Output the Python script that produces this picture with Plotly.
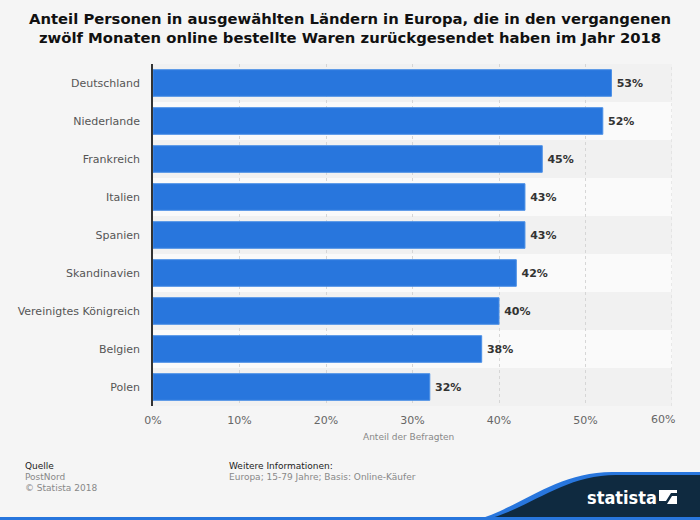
import plotly.graph_objects as go

countries = ["Deutschland", "Niederlande", "Frankreich", "Italien", "Spanien",
             "Skandinavien", "Vereinigtes Königreich", "Belgien", "Polen"]
values = [53, 52, 45, 43, 43, 42, 40, 38, 32]
x_ticks = [0, 10, 20, 30, 40, 50, 60]
x_tick_labels = ["0%", "10%", "20%", "30%", "40%", "50%", "60%"]

W, H = 700, 520
L, R, T, B = 153, 28, 64, 114
PW, PH = W - L - R, H - T - B


def xp(px):
    return (px - L) / PW


def yp(py):
    return (H - B - py) / PH


def path(points_cmds):
    out = []
    for cmd, pts in points_cmds:
        coords = [f"{xp(x):.5f},{yp(y):.5f}" for (x, y) in pts]
        out.append(cmd + " " + " ".join(coords))
    return " ".join(out) + " Z"


BLUE = "#2876dd"
NAVY = "#0f2a40"
GRID = "#d6d6d6"

fig = go.Figure()
fig.add_trace(go.Bar(
    y=countries,
    x=values,
    orientation="h",
    marker=dict(color=BLUE, line=dict(color="#4a8fe6", width=1)),
    width=0.70,
    text=[f"\u2009{v}%" for v in values],
    textposition="outside",
    textfont=dict(family="DejaVu Sans", size=11, color="#333333", weight="bold"),
    cliponaxis=False,
    hoverinfo="skip",
))

shapes = []
for i, c in enumerate(countries):
    shapes.append(dict(
        type="rect", xref="paper", yref="y", layer="below",
        x0=0, x1=1, y0=i - 0.5, y1=i + 0.5,
        fillcolor="#f1f1f1" if i % 2 == 0 else "#fafafa", line=dict(width=0),
    ))
# gridline at the right edge of the plot
shapes.append(dict(
    type="line", xref="x", yref="paper", layer="below",
    x0=x_ticks[-1], x1=x_ticks[-1], y0=0, y1=1,
    line=dict(color=GRID, width=1, dash="dot"),
))

shapes.append(dict(
    type="path", xref="paper", yref="paper", layer="above",
    path=path([("M", [(476, 520)]),
               ("C", [(520, 508), (555, 472), (612, 472)]),
               ("L", [(700, 472)]),
               ("L", [(700, 520)])]),
    fillcolor=BLUE, line=dict(width=0),
))
shapes.append(dict(
    type="path", xref="paper", yref="paper", layer="above",
    path=path([("M", [(484, 520)]),
               ("C", [(528, 510), (562, 475), (616, 475)]),
               ("L", [(700, 475)]),
               ("L", [(700, 520)])]),
    fillcolor=NAVY, line=dict(width=0),
))
shapes.append(dict(
    type="rect", xref="paper", yref="paper", layer="above",
    x0=xp(0), x1=xp(700), y0=yp(520), y1=yp(517),
    fillcolor=BLUE, line=dict(width=0),
))
shapes.append(dict(
    type="rect", xref="paper", yref="paper", layer="above",
    x0=xp(659), x1=xp(677), y0=yp(504), y1=yp(490),
    fillcolor="white", line=dict(width=0),
))
shapes.append(dict(
    type="path", xref="paper", yref="paper", layer="above",
    path=path([("M", [(659, 501)]),
               ("L", [(666, 501)]),
               ("L", [(671, 493)]),
               ("L", [(677, 493)]),
               ("L", [(677, 496)]),
               ("L", [(672, 496)]),
               ("L", [(667, 504)]),
               ("L", [(659, 504)])]),
    fillcolor=NAVY, line=dict(width=0),
))

annotations = [
    dict(text="Anteil Personen in ausgewählten Ländern in Europa, die in den vergangenen<br>"
              "zwölf Monaten online bestellte Waren zurückgesendet haben im Jahr 2018",
         x=xp(350), y=yp(28), xref="paper", yref="paper", showarrow=False,
         xanchor="center", yanchor="middle",
         font=dict(family="DejaVu Sans", size=14.8, color="#111111", weight="bold")),
    dict(text=x_tick_labels[-1], x=xp(677), y=yp(419), xref="paper", yref="paper",
         showarrow=False, xanchor="right", yanchor="middle",
         font=dict(family="DejaVu Sans", size=11, color="#666666")),
    dict(text="Anteil der Befragten", x=xp(408), y=yp(437), xref="paper", yref="paper",
         showarrow=False, xanchor="center", yanchor="middle",
         font=dict(family="DejaVu Sans", size=9, color="#888888")),
    dict(text="Quelle", x=xp(23), y=yp(466), xref="paper", yref="paper", showarrow=False,
         xanchor="left", yanchor="middle",
         font=dict(family="DejaVu Sans", size=9, color="#222222")),
    dict(text="PostNord", x=xp(23), y=yp(477), xref="paper", yref="paper", showarrow=False,
         xanchor="left", yanchor="middle",
         font=dict(family="DejaVu Sans", size=9, color="#888888")),
    dict(text="© Statista 2018", x=xp(23), y=yp(488), xref="paper", yref="paper",
         showarrow=False, xanchor="left", yanchor="middle",
         font=dict(family="DejaVu Sans", size=9, color="#888888")),
    dict(text="Weitere Informationen:", x=xp(227), y=yp(466), xref="paper", yref="paper",
         showarrow=False, xanchor="left", yanchor="middle",
         font=dict(family="DejaVu Sans", size=9, color="#222222")),
    dict(text="Europa; 15-79 Jahre; Basis: Online-Käufer", x=xp(227), y=yp(477),
         xref="paper", yref="paper", showarrow=False, xanchor="left", yanchor="middle",
         font=dict(family="DejaVu Sans", size=9, color="#888888")),
    dict(text="statista", x=xp(622), y=yp(497), xref="paper", yref="paper",
         showarrow=False, xanchor="center", yanchor="middle",
         font=dict(family="DejaVu Sans Condensed", size=18, color="white", weight="bold")),
]

fig.update_layout(
    width=W, height=H,
    margin=dict(l=L, r=R, t=T, b=B, pad=0),
    paper_bgcolor="#f5f5f5",
    plot_bgcolor="#f5f5f5",
    showlegend=False,
    shapes=shapes,
    annotations=annotations,
    xaxis=dict(
        range=[0, 60], tickvals=x_ticks,
        ticktext=x_tick_labels[:-1] + [""],
        showgrid=True, gridcolor=GRID, griddash="dot", gridwidth=1,
        zeroline=False, showline=False, ticks="",
        tickfont=dict(family="DejaVu Sans", size=11, color="#666666"),
        ticklabelstandoff=6,
        fixedrange=True,
    ),
    yaxis=dict(
        categoryorder="array", categoryarray=countries, autorange="reversed",
        showgrid=False, zeroline=False,
        showline=True, linecolor="#333333", linewidth=1.5,
        ticks="", ticklabelstandoff=9,
        tickfont=dict(family="DejaVu Sans", size=11, color="#555555"),
        fixedrange=True,
    ),
)

fig.write_html(
    "out.html",
    config={"displayModeBar": False},
    post_script="document.body.style.margin='0';document.body.style.background='#f5f5f5';",
)
